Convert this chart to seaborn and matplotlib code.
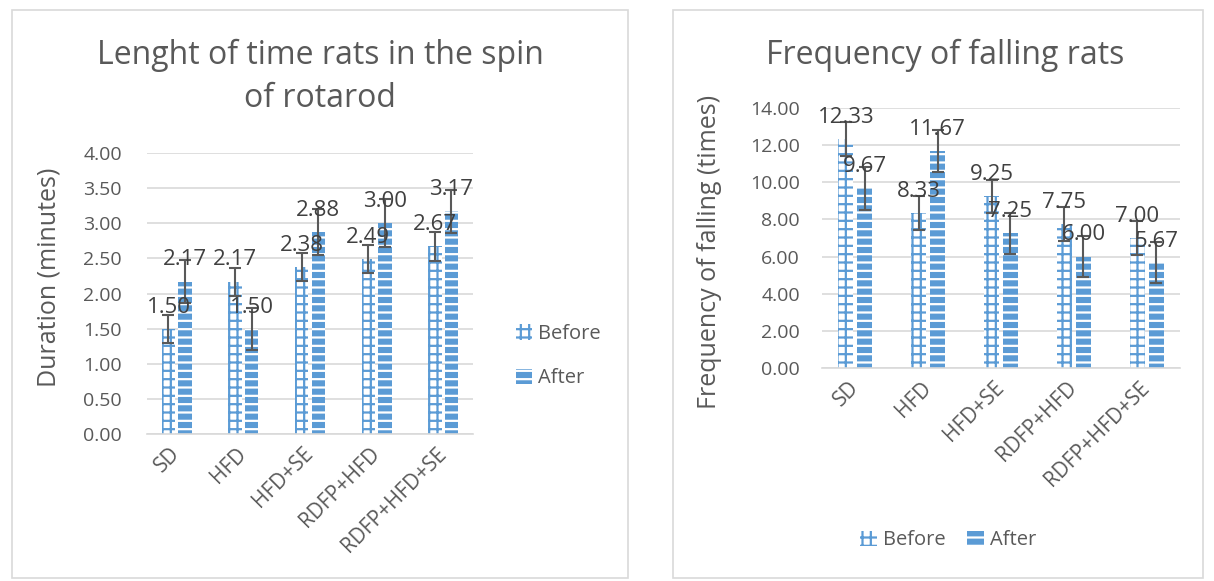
import matplotlib
matplotlib.use("Agg")
import matplotlib.pyplot as plt
import matplotlib.patches as mpatches
import pandas as pd
import seaborn as sns

# Данные
groups = ["SD", "HFD", "HFD+SE", "RDFP+HFD", "RDFP+HFD+SE"]
phases = ["Before", "After"]

time_before = [1.50, 2.17, 2.38, 2.49, 2.67]
time_after = [2.17, 1.50, 2.88, 3.00, 3.17]
time_err_before = [0.20, 0.20, 0.20, 0.20, 0.20]
time_err_after = [0.31, 0.30, 0.33, 0.34, 0.31]

fall_before = [12.33, 8.33, 9.25, 7.75, 7.00]
fall_after = [9.67, 11.67, 7.25, 6.00, 5.67]
fall_err_before = [0.90, 0.92, 0.90, 0.90, 0.90]
fall_err_after = [1.14, 1.12, 1.12, 1.10, 1.10]

blue = "#5B9BD5"
grey_text = "#595959"
grid_col = "#D9D9D9"

sns.set_theme(style="white")
plt.rcParams["font.family"] = ["Open Sans", "DejaVu Sans"]
plt.rcParams["hatch.linewidth"] = 1.6
plt.rcParams["text.color"] = grey_text


def long_df(before, after):
    return pd.DataFrame({
        "group": groups * 2,
        "phase": ["Before"] * len(groups) + ["After"] * len(groups),
        "value": list(before) + list(after),
    })


def style_bars(ax, errs, fontsize):
    for container, phase, err in zip(ax.containers, phases, errs):
        for bar, e in zip(container, err):
            if phase == "Before":
                bar.set_facecolor("white")
                bar.set_edgecolor(blue)
                bar.set_hatch("++")
            else:
                bar.set_facecolor(blue)
                bar.set_edgecolor("white")
                bar.set_hatch("--")
            bar.set_linewidth(0)
            xc = bar.get_x() + bar.get_width() / 2
            h = bar.get_height()
            ax.errorbar(xc, h, yerr=e, color="#595959", elinewidth=1.5,
                        capsize=4, capthick=1.5, zorder=5)
            ax.annotate(f"{h:.2f}", (xc, h), xytext=(0, 8),
                        textcoords="offset points", ha="center", va="bottom",
                        fontsize=fontsize, color="#404040", zorder=6)


def style_axes(ax, ticks, ylabel, pad):
    ax.set_yticks(ticks)
    ax.set_yticklabels([f"{t:.2f}" for t in ticks])
    ax.set_ylim(ticks[0], ticks[-1])
    ax.yaxis.grid(True, color=grid_col, lw=1.2)
    ax.set_axisbelow(True)
    for s in ["top", "right", "left"]:
        ax.spines[s].set_visible(False)
    ax.spines["bottom"].set_color(grid_col)
    ax.spines["bottom"].set_linewidth(1.2)
    ax.tick_params(axis="y", length=0, pad=pad, labelsize=14, labelcolor=grey_text)
    ax.tick_params(axis="x", length=0, pad=12, labelsize=15, labelcolor=grey_text)
    for lab in ax.get_xticklabels():
        lab.set_rotation(45)
        lab.set_ha("right")
        lab.set_va("center")
        lab.set_rotation_mode("anchor")
    ax.set_xlabel("")
    ax.set_ylabel(ylabel, fontsize=18, color=grey_text)


def legend_handles():
    return [
        mpatches.Patch(facecolor="white", edgecolor=blue, hatch="++", lw=0, label="Before"),
        mpatches.Patch(facecolor=blue, edgecolor="white", hatch="--", lw=0, label="After"),
    ]


fig = plt.figure(figsize=(12.14, 5.81), dpi=100)

# рамки панелей
for x0, w in [(0.0099, 0.5074), (0.5544, 0.4366)]:
    fig.patches.append(mpatches.Rectangle((x0, 0.0052), w, 0.9776, transform=fig.transFigure,
                                          fill=False, edgecolor=grid_col, lw=1.2))

# Левый график
ax1 = fig.add_axes([0.1211, 0.2530, 0.2685, 0.4836])
sns.barplot(data=long_df(time_before, time_after), x="group", y="value", hue="phase",
            order=groups, hue_order=phases, width=0.5, gap=0.2, errorbar=None,
            legend=False, ax=ax1)
style_bars(ax1, [time_err_before, time_err_after], 16)
style_axes(ax1, [0, 0.5, 1, 1.5, 2, 2.5, 3, 3.5, 4], "Duration (minutes)", 18)
ax1.yaxis.set_label_coords(-0.261, 0.559)
fig.text(0.2636, 0.8675, "Lenght of time rats in the spin\nof rotarod", ha="center",
         va="center", fontsize=23, linespacing=1.4, color=grey_text)
fig.legend(handles=legend_handles(), loc="center left", bbox_to_anchor=(0.41, 0.387),
           frameon=False, fontsize=14.5, labelspacing=1.2, handlelength=0.8,
           handleheight=0.8, handletextpad=0.3, labelcolor=grey_text)

# Правый график
ax2 = fig.add_axes([0.6771, 0.3666, 0.2949, 0.4475])
sns.barplot(data=long_df(fall_before, fall_after), x="group", y="value", hue="phase",
            order=groups, hue_order=phases, width=0.52, gap=0.2, errorbar=None,
            legend=False, ax=ax2)
style_bars(ax2, [fall_err_before, fall_err_after], 16)
style_axes(ax2, [0, 2, 4, 6, 8, 10, 12, 14], "Frequency of falling (times)", 16)
ax2.yaxis.set_label_coords(-0.279, 0.446)
fig.text(0.7784, 0.9053, "Frequency of falling rats", ha="center", va="center",
         fontsize=23, color=grey_text)
fig.legend(handles=legend_handles(), loc="center", bbox_to_anchor=(0.781, 0.07),
           ncol=2, frameon=False, fontsize=14.5, handlelength=0.8, handleheight=0.8,
           handletextpad=0.3, columnspacing=1.1, labelcolor=grey_text)

plt.savefig("out.png", dpi=100)
